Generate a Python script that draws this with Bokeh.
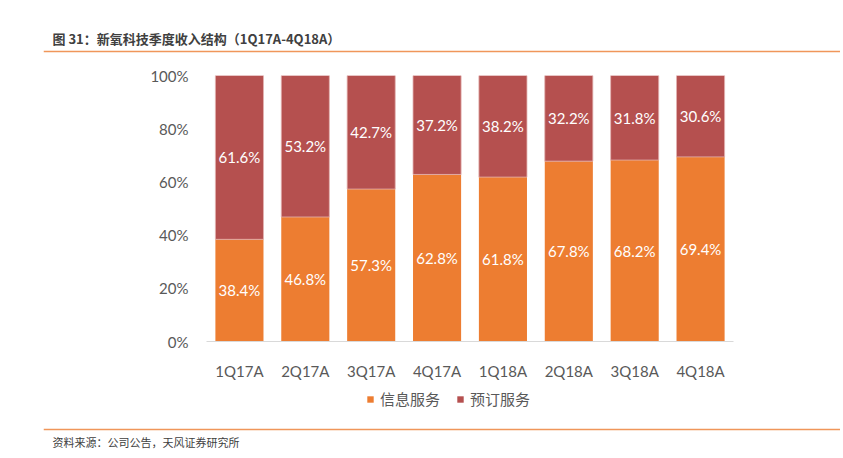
from bokeh.plotting import figure
from bokeh.models import (ColumnDataSource, FactorRange, Range1d, LabelSet, Label, Span,
                          Legend, LegendItem, PrintfTickFormatter, FixedTicker)
from bokeh.layouts import column
from bokeh.core.properties import value
from bokeh.embed import file_html
from bokeh.resources import INLINE

categories = ["1Q17A", "2Q17A", "3Q17A", "4Q17A", "1Q18A", "2Q18A", "3Q18A", "4Q18A"]
info_service = [38.4, 46.8, 57.3, 62.8, 61.8, 67.8, 68.2, 69.4]
booking_service = [61.6, 53.2, 42.7, 37.2, 38.2, 32.2, 31.8, 30.6]
series_names = ["信息服务", "预订服务"]
title_text = "图 31：新氧科技季度收入结构（1Q17A-4Q18A）"
source_text = "资料来源：公司公告，天风证券研究所"
y_ticks = [0, 20, 40, 60, 80, 100]

ORANGE = "#ED7D31"
RED = "#B5504F"
GREY = "#595959"
LINE = "#F0965A"
CJK = "Noto Sans CJK SC"
LAT = "Lato"

W = 840
RULE_LEFT = 43
HEAD_H, MAIN_H, FOOT_H = 55, 328, 70


def blank_fig(h):
    f = figure(width=W, height=h, output_backend="svg", toolbar_location=None, tools="",
               x_range=Range1d(0, W - RULE_LEFT), y_range=Range1d(h, 0),
               x_axis_location=None, y_axis_location=None,
               min_border_left=RULE_LEFT, min_border_right=0,
               min_border_top=0, min_border_bottom=0, frame_align=False)
    f.outline_line_color = None
    f.xgrid.grid_line_color = None
    f.ygrid.grid_line_color = None
    return f


# ---------- header ----------
head = blank_fig(HEAD_H)
head.add_layout(Label(x=9, y=38, text=title_text, text_font=CJK, text_font_size="13px",
                      text_font_style="bold", text_color="#404040", text_baseline="middle"))
head.add_layout(Span(location=51, dimension="width", line_color=LINE, line_width=1.5))

# ---------- main chart ----------
src = ColumnDataSource(dict(
    cat=categories,
    info=info_service,
    total=[a + b for a, b in zip(info_service, booking_service)],
    info_mid=[v / 2 for v in info_service],
    book_mid=[a + b / 2 for a, b in zip(info_service, booking_service)],
    info_lbl=[f"{v:.1f}%" for v in info_service],
    book_lbl=[f"{v:.1f}%" for v in booking_service],
))

p = figure(width=W, height=MAIN_H, output_backend="svg", toolbar_location=None, tools="",
           x_range=FactorRange(*categories, range_padding=0), y_range=Range1d(0, 100),
           min_border_left=206, min_border_right=W - 733, min_border_top=20,
           min_border_bottom=42, frame_align=False)
p.outline_line_color = None
p.xgrid.grid_line_color = None
p.ygrid.grid_line_color = None

p.vbar(x="cat", bottom=0, top="info", width=0.73, source=src,
       fill_color=ORANGE, line_color=None)
p.vbar(x="cat", bottom="info", top="total", width=0.73, source=src,
       fill_color=RED, line_color="#E3B3B1", line_width=0.8)

for ycol, tcol in (("info_mid", "info_lbl"), ("book_mid", "book_lbl")):
    p.add_layout(LabelSet(x="cat", y=ycol, text=tcol, source=src,
                          text_align="center", text_baseline="middle", text_color="white",
                          text_font=value(LAT), text_font_size="15px"))

p.yaxis.ticker = FixedTicker(ticks=y_ticks)
p.yaxis.formatter = PrintfTickFormatter(format="%d%%")
p.yaxis.axis_line_color = None
p.yaxis.major_tick_line_color = None
p.yaxis.minor_tick_line_color = None
p.yaxis.major_label_standoff = 12
p.yaxis.major_label_text_font = LAT
p.yaxis.major_label_text_font_size = "15px"
p.yaxis.major_label_text_color = GREY

p.xaxis.axis_line_color = "#D9D9D9"
p.xaxis.axis_line_width = 1
p.xaxis.major_tick_line_color = None
p.xaxis.minor_tick_line_color = None
p.xaxis.major_label_standoff = 14
p.xaxis.major_label_text_font = LAT
p.xaxis.major_label_text_font_size = "15px"
p.xaxis.major_label_text_color = GREY

# ---------- footer: legend, rule, source ----------
foot = blank_fig(FOOT_H)
# hidden swatch renderers (not drawn), only used so the legend can show the series colours
k1 = foot.vbar(x=[0], top=[0], width=0, fill_color=ORANGE, line_color=None, visible=False)
k2 = foot.vbar(x=[0], top=[0], width=0, fill_color=RED, line_color=None, visible=False)
legend = Legend(items=[LegendItem(label=series_names[0], renderers=[k1]),
                       LegendItem(label=series_names[1], renderers=[k2])],
                orientation="horizontal", location=(323, FOOT_H - 26),
                glyph_width=8, glyph_height=8, label_standoff=6, spacing=16,
                padding=0, margin=0, border_line_color=None, background_fill_alpha=0,
                label_text_font=CJK, label_text_font_size="15px",
                label_text_color=GREY, label_height=20)
foot.add_layout(legend, "center")
foot.add_layout(Span(location=46, dimension="width", line_color=LINE, line_width=1.5))
foot.add_layout(Label(x=9, y=58, text=source_text, text_font=CJK, text_font_size="11px",
                      text_color="#404040", text_baseline="middle"))

layout = column(head, p, foot, spacing=0)
open("out.html", "w").write(file_html(layout, INLINE))
